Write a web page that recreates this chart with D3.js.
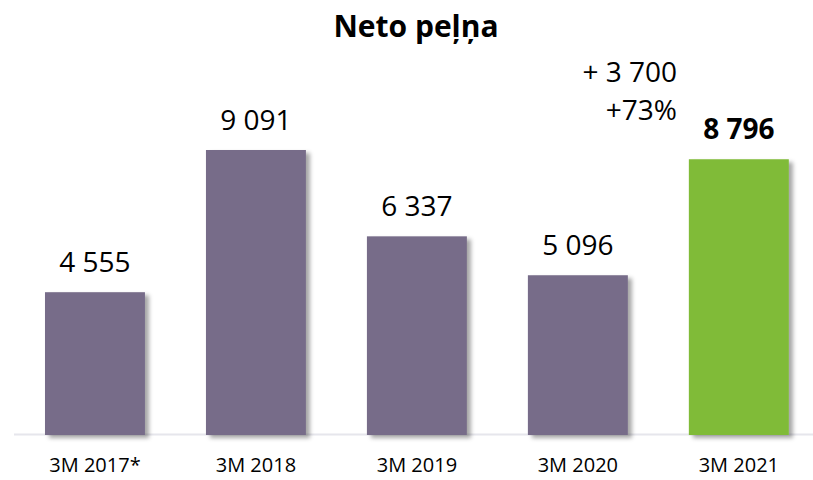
<!DOCTYPE html>
<html>
<head>
<meta charset="utf-8">
<script src="https://cdn.jsdelivr.net/npm/d3@7"></script>
<style>
  body { margin: 0; background: #fff; }
  text { font-family: "Open Sans", sans-serif; fill: #000; }
</style>
</head>
<body>
<div id="chart"></div>
<script>
// data
const categories = ["3M 2017*", "3M 2018", "3M 2019", "3M 2020", "3M 2021"];
const values = [4555, 9091, 6337, 5096, 8796];
const valueLabels = ["4 555", "9 091", "6 337", "5 096", "8 796"];
const changeLabels = ["+ 3 700", "+73%"];

const width = 813;
const height = 480;
const baseY = 435;

const barColor = "#776c89";
const lastColor = "#80bb37";

const svg = d3.select("#chart")
  .append("svg")
  .attr("width", width)
  .attr("height", height);

// drop shadow for bars
const defs = svg.append("defs");
const f = defs.append("filter").attr("id", "shadow")
  .attr("x", "-10%").attr("y", "-10%").attr("width", "130%").attr("height", "130%");
f.append("feDropShadow")
  .attr("dx", 4).attr("dy", 3)
  .attr("stdDeviation", 2)
  .attr("flood-color", "#000")
  .attr("flood-opacity", 0.35);

const x = d3.scaleBand()
  .domain(categories)
  .range([14.4, 819.4])
  .paddingInner(0.379)
  .paddingOuter(0.19);

const y = d3.scaleLinear()
  .domain([0, 10000])
  .range([baseY, baseY - 285 / 9091 * 10000]);

// title
svg.append("text")
  .attr("x", 416)
  .attr("y", 37)
  .attr("text-anchor", "middle")
  .style("font-size", "30px")
  .style("font-weight", "bold")
  .text("Neto peļņa");

// baseline
svg.append("line")
  .attr("x1", 14).attr("x2", 813)
  .attr("y1", baseY - 0.5).attr("y2", baseY - 0.5)
  .attr("stroke", "#e6e6ec")
  .attr("stroke-width", 2);

// bars
svg.selectAll(".bar")
  .data(values)
  .enter()
  .append("rect")
  .attr("class", "bar")
  .attr("x", (d, i) => x(categories[i]))
  .attr("y", d => y(d))
  .attr("width", x.bandwidth())
  .attr("height", d => y(0) - y(d))
  .attr("fill", (d, i) => i === values.length - 1 ? lastColor : barColor)
  .attr("filter", "url(#shadow)");

// value labels
svg.selectAll(".val")
  .data(values)
  .enter()
  .append("text")
  .attr("class", "val")
  .attr("x", (d, i) => x(categories[i]) + x.bandwidth() / 2)
  .attr("y", d => y(d) - 20)
  .attr("text-anchor", "middle")
  .style("font-size", "28px")
  .style("font-weight", (d, i) => i === values.length - 1 ? "bold" : "normal")
  .text((d, i) => valueLabels[i]);

// change annotation
svg.selectAll(".chg")
  .data(changeLabels)
  .enter()
  .append("text")
  .attr("class", "chg")
  .attr("x", 677)
  .attr("y", (d, i) => 82 + i * 38)
  .attr("text-anchor", "end")
  .style("font-size", "28px")
  .text(d => d);

// category labels
svg.selectAll(".cat")
  .data(categories)
  .enter()
  .append("text")
  .attr("class", "cat")
  .attr("x", d => x(d) + x.bandwidth() / 2)
  .attr("y", 472)
  .attr("text-anchor", "middle")
  .style("font-size", "20px")
  .text(d => d);
</script>
</body>
</html>
